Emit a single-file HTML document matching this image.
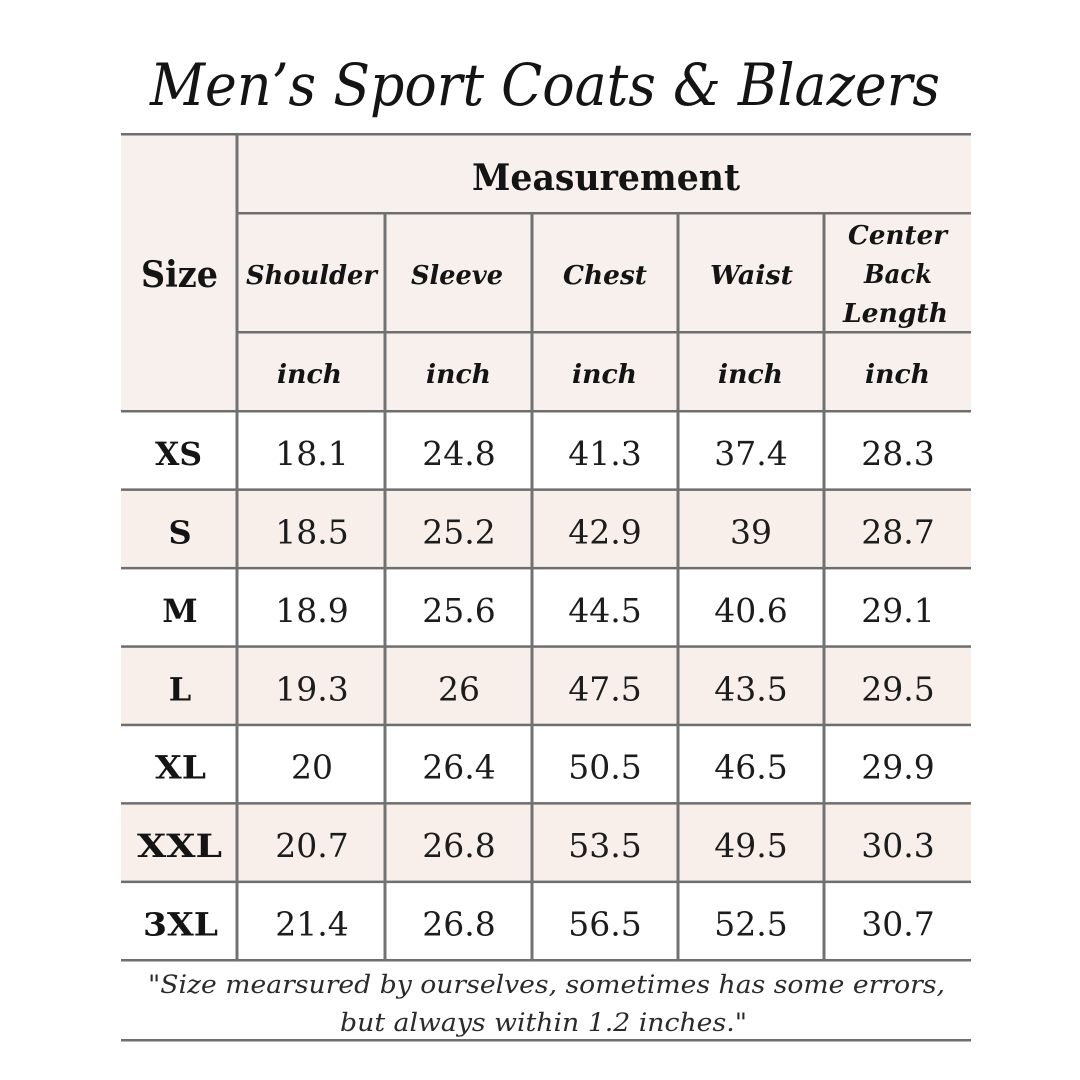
<!DOCTYPE html>
<html><head><meta charset="utf-8"><style>
html,body{margin:0;padding:0;background:#fff;}
svg{display:block;}
text{font-family:"DejaVu Serif","Liberation Serif",serif;fill:#141414;}
.b{font-weight:bold;}
.i{font-style:italic;}
.n{font-size:33px;text-anchor:middle;fill:#1c1c1c;}
.sz{font-size:32px;font-weight:bold;text-anchor:middle;}
</style></head><body>
<svg width="1080" height="1080" viewBox="0 0 1080 1080" xmlns="http://www.w3.org/2000/svg">
<rect width="1080" height="1080" fill="#fff"/>
<!-- header bg -->
<rect x="121" y="134" width="850" height="277" fill="#f7f0ec"/>
<!-- pink rows -->
<rect x="121" y="489.4" width="850" height="78.5" fill="#f8efeb"/>
<rect x="121" y="646.3" width="850" height="78.4" fill="#f8efeb"/>
<rect x="121" y="803.1" width="850" height="78.5" fill="#f8efeb"/>

<!-- horizontal lines -->
<g fill="#6e6e6e">
<rect x="121" y="133" width="850" height="2.5"/>
<rect x="237" y="212" width="734" height="2.5"/>
<rect x="237" y="331" width="734" height="2.5"/>
<rect x="121" y="410" width="850" height="2.5"/>
<rect x="121" y="488.4" width="850" height="2.5"/>
<rect x="121" y="566.9" width="850" height="2.5"/>
<rect x="121" y="645.3" width="850" height="2.5"/>
<rect x="121" y="723.7" width="850" height="2.5"/>
<rect x="121" y="802.1" width="850" height="2.5"/>
<rect x="121" y="880.6" width="850" height="2.5"/>
<rect x="121" y="959" width="850" height="2.5"/>
<rect x="121" y="1039" width="850" height="2.5"/>
</g>
<!-- vertical lines -->
<g fill="#727272">
<rect x="235.5" y="134" width="3" height="827"/>
<rect x="383.5" y="213" width="3" height="748"/>
<rect x="530.5" y="213" width="3" height="748"/>
<rect x="676.5" y="213" width="3" height="748"/>
<rect x="822.5" y="213" width="3" height="748"/>
</g>

<!-- title -->
<text x="150" y="105" class="i" font-size="58" textLength="790" lengthAdjust="spacingAndGlyphs">Men’s Sport Coats &amp; Blazers</text>

<!-- header -->
<text x="472" y="190" class="b" font-size="36" textLength="268" lengthAdjust="spacingAndGlyphs">Measurement</text>
<text x="141" y="287" class="b" font-size="36" textLength="77" lengthAdjust="spacingAndGlyphs">Size</text>
<g class="b i" font-size="26">
<text x="246" y="284" class="b i" textLength="131" lengthAdjust="spacingAndGlyphs">Shoulder</text>
<text x="411" y="284" class="b i" textLength="92" lengthAdjust="spacingAndGlyphs">Sleeve</text>
<text x="563" y="284" class="b i" textLength="84" lengthAdjust="spacingAndGlyphs">Chest</text>
<text x="710" y="284" class="b i" textLength="83" lengthAdjust="spacingAndGlyphs">Waist</text>
<text x="848" y="244" class="b i" textLength="99" lengthAdjust="spacingAndGlyphs">Center</text>
<text x="864" y="283" class="b i" textLength="68" lengthAdjust="spacingAndGlyphs">Back</text>
<text x="843" y="322" class="b i" textLength="105" lengthAdjust="spacingAndGlyphs">Length</text>
</g>
<g font-size="26">
<text x="277" y="383" class="b i" textLength="65" lengthAdjust="spacingAndGlyphs">inch</text>
<text x="426" y="383" class="b i" textLength="65" lengthAdjust="spacingAndGlyphs">inch</text>
<text x="572" y="383" class="b i" textLength="65" lengthAdjust="spacingAndGlyphs">inch</text>
<text x="718" y="383" class="b i" textLength="65" lengthAdjust="spacingAndGlyphs">inch</text>
<text x="865" y="383" class="b i" textLength="65" lengthAdjust="spacingAndGlyphs">inch</text>
</g>

<!-- size labels -->
<text x="155" y="465" class="sz" style="text-anchor:start" textLength="47" lengthAdjust="spacingAndGlyphs">XS</text>
<text x="180" y="543.4" class="sz">S</text>
<text x="180" y="621.9" class="sz">M</text>
<text x="180" y="700.3" class="sz">L</text>
<text x="155" y="778.7" class="sz" style="text-anchor:start" textLength="51" lengthAdjust="spacingAndGlyphs">XL</text>
<text x="137" y="857.1" class="sz" style="text-anchor:start" textLength="85" lengthAdjust="spacingAndGlyphs">XXL</text>
<text x="143" y="935.6" class="sz" style="text-anchor:start" textLength="75" lengthAdjust="spacingAndGlyphs">3XL</text>

<!-- data -->
<g>
<text x="312" y="465" class="n">18.1</text><text x="459" y="465" class="n">24.8</text><text x="605" y="465" class="n">41.3</text><text x="751" y="465" class="n">37.4</text><text x="898" y="465" class="n">28.3</text>
<text x="312" y="543.4" class="n">18.5</text><text x="459" y="543.4" class="n">25.2</text><text x="605" y="543.4" class="n">42.9</text><text x="751" y="543.4" class="n">39</text><text x="898" y="543.4" class="n">28.7</text>
<text x="312" y="621.9" class="n">18.9</text><text x="459" y="621.9" class="n">25.6</text><text x="605" y="621.9" class="n">44.5</text><text x="751" y="621.9" class="n">40.6</text><text x="898" y="621.9" class="n">29.1</text>
<text x="312" y="700.3" class="n">19.3</text><text x="459" y="700.3" class="n">26</text><text x="605" y="700.3" class="n">47.5</text><text x="751" y="700.3" class="n">43.5</text><text x="898" y="700.3" class="n">29.5</text>
<text x="312" y="778.7" class="n">20</text><text x="459" y="778.7" class="n">26.4</text><text x="605" y="778.7" class="n">50.5</text><text x="751" y="778.7" class="n">46.5</text><text x="898" y="778.7" class="n">29.9</text>
<text x="312" y="857.1" class="n">20.7</text><text x="459" y="857.1" class="n">26.8</text><text x="605" y="857.1" class="n">53.5</text><text x="751" y="857.1" class="n">49.5</text><text x="898" y="857.1" class="n">30.3</text>
<text x="312" y="935.6" class="n">21.4</text><text x="459" y="935.6" class="n">26.8</text><text x="605" y="935.6" class="n">56.5</text><text x="751" y="935.6" class="n">52.5</text><text x="898" y="935.6" class="n">30.7</text>
</g>

<!-- footer -->
<text x="148" y="993" class="i" font-size="25" style="fill:#2a2a2a" textLength="797" lengthAdjust="spacingAndGlyphs">"Size mearsured by ourselves, sometimes has some errors,</text>
<text x="340" y="1031" class="i" font-size="25" style="fill:#2a2a2a" textLength="407" lengthAdjust="spacingAndGlyphs">but always within 1.2 inches."</text>
</svg>
</body></html>
